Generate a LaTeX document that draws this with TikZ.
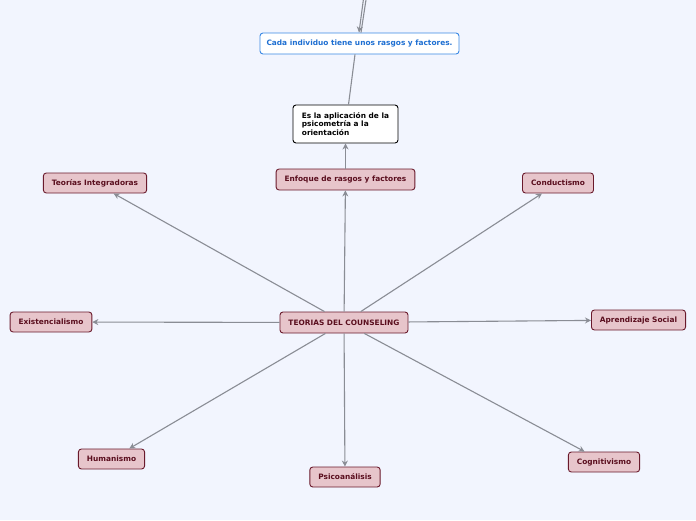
\documentclass[tikz,border=0pt]{standalone}
\usepackage{fontspec}
\setmainfont{DejaVu Sans}
\usetikzlibrary{arrows.meta}
\definecolor{bgc}{HTML}{F2F5FE}
\definecolor{pinkfill}{HTML}{E7C5CB}
\definecolor{maroon}{HTML}{6A1A2C}
\definecolor{maroontext}{HTML}{5A0E1E}
\definecolor{edgec}{HTML}{8A8D95}
\definecolor{bluebord}{HTML}{3A88E4}
\definecolor{bluetext}{HTML}{1E6FD2}
\tikzset{
  topic/.style={draw=maroon, line width=0.9pt, fill=pinkfill, rounded corners=3pt,
    text=maroontext, font=\fontsize{7.4}{8.5}\selectfont\bfseries,
    inner xsep=8.5pt, minimum height=20pt, inner ysep=0pt},
  bluebox/.style={draw=bluebord, line width=0.9pt, fill=white, rounded corners=3pt,
    text=bluetext, font=\fontsize{7.4}{8.5}\selectfont\bfseries,
    minimum width=199pt, minimum height=21pt, inner ysep=0pt},
  notebox/.style={draw=black, line width=0.9pt, fill=white, rounded corners=3pt,
    text=black, font=\fontsize{7.4}{8.5}\selectfont\bfseries, align=left,
    minimum width=105pt, minimum height=38pt},
  conn/.style={draw=edgec, line width=1.1pt, -{Stealth[length=6pt,width=6pt]}},
  plain/.style={draw=edgec, line width=1.1pt}
}
\begin{document}
\begin{tikzpicture}[x=1pt,y=-1pt]
\fill[bgc] (0,0) rectangle (696,520);
\useasboundingbox (0,0) rectangle (696,520);
\clip (0,0) rectangle (696,520);

\node[topic, minimum width=128pt, minimum height=21pt] (root) at (344,322.5) {TEORIAS DEL COUNSELING};
\node[topic, minimum width=135pt, minimum height=21pt] (enfoque) at (345.5,179.5) {Enfoque de rasgos y factores};
\node[notebox] (nota) at (345.5,124) {Es la aplicación de la\\psicometría a la\\orientación};
\node[bluebox] (cada) at (359.5,43.5) {Cada individuo tiene unos rasgos y factores.};
\node[topic, minimum width=102pt] (integ) at (95,183) {Teorías Integradoras};
\node[topic, minimum width=70pt] (conduc) at (558,183) {Conductismo};
\node[topic, minimum width=80pt] (exist) at (51,322) {Existencialismo};
\node[topic, minimum width=93pt] (aprend) at (638.5,320) {Aprendizaje Social};
\node[topic, minimum width=65pt] (human) at (111.5,459) {Humanismo};
\node[topic, minimum width=70pt] (psico) at (345,477) {Psicoanálisis};
\node[topic, minimum width=70pt] (cogn) at (604,462) {Cognitivismo};

\coordinate (up1) at (366,-20);
\coordinate (up2) at (369,-20);

\path[conn] (root) -- (integ);
\path[conn] (root) -- (conduc);
\path[conn] (root) -- (exist);
\path[conn] (root) -- (aprend);
\path[conn] (root) -- (human);
\path[conn] (root) -- (psico);
\path[conn] (root) -- (cogn);
\path[conn] (root) -- (enfoque);
\path[conn] (enfoque) -- (nota);
\path[plain] (nota.north) ++(3,0) coordinate (nt) -- (cada.south -| 355,0);
\path[conn] (up1) -- (cada.north -| 359,0);
\path[plain] (up2) -- (cada.north -| 361,0);
\end{tikzpicture}
\end{document}
